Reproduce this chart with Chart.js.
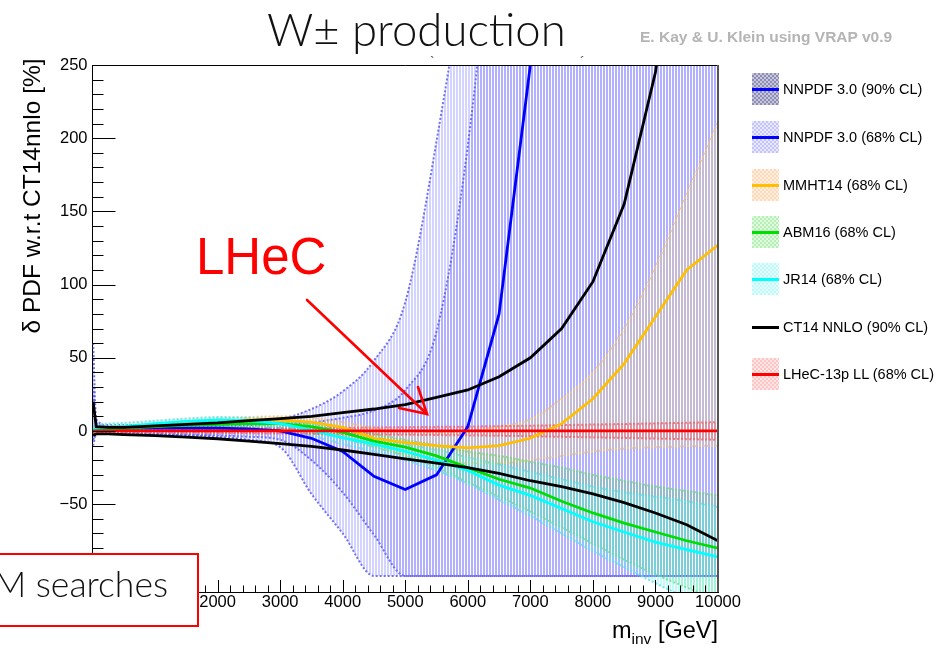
<!DOCTYPE html>
<html><head><meta charset="utf-8">
<script src="https://cdn.jsdelivr.net/npm/chart.js@4.4.0/dist/chart.umd.min.js"></script>
<style>
html,body{margin:0;padding:0;background:#fff;}
#wrap{position:relative;width:938px;height:653px;overflow:hidden;font-family:"Liberation Sans",Arial,sans-serif;}
canvas{position:absolute;left:0;top:0;}
.abs{position:absolute;white-space:nowrap;}
.thin{font-family:"Lato","Open Sans",sans-serif;font-weight:300;}
.sw{position:absolute;left:752px;width:27px;height:32px;background-size:4px 4px;}
.sw i{position:absolute;left:0;right:0;top:14.5px;height:3px;}
.lt{position:absolute;left:783px;font-size:14.5px;line-height:16px;color:#000;}
</style></head><body>
<div id="wrap">
<canvas id="c" width="938" height="653"></canvas>

<div class="abs thin" style="left:267px;top:1px;font-size:45.5px;color:#111;">W± production</div>
<div class="abs" style="left:640px;top:28px;font-size:15.5px;font-weight:bold;color:#b4b4b4;">E. Kay &amp; U. Klein using VRAP v0.9</div>
<div class="abs" style="left:430px;top:54px;font-size:14px;color:#444;">`</div>
<div class="abs" style="left:580px;top:54px;font-size:14px;color:#444;">´</div>

<div class="abs" style="left:196px;top:227px;font-size:51px;color:#ff0000;line-height:60px;">LHeC</div>
<svg class="abs" style="left:0;top:0;" width="938" height="653">
  <g stroke="#ff0000" stroke-width="2.6" fill="none" stroke-linecap="round">
    <line x1="307" y1="300" x2="427" y2="414"/>
    <polyline points="418,387 427,414 399,408"/>
  </g>
</svg>

<div class="abs" style="left:-30px;top:553px;width:225px;height:70px;border:2px solid #ff0000;background:#fff;"></div>
<div class="abs thin" style="right:770px;top:564px;font-size:35.5px;color:#111;line-height:40px;">BSM searches</div>

<div class="abs" style="right:220px;top:617px;font-size:23.5px;color:#000;">m<sub style="font-size:15.5px;vertical-align:-6px;">inv</sub> [GeV]</div>
<div class="abs" style="left:32px;top:196px;font-size:24.5px;color:#000;transform:translate(-50%,-50%) rotate(-90deg);">δ PDF w.r.t CT14nnlo [%]</div>

<div id="legend"></div>
</div>
<script>
// ---------- data ----------
const mass = [10, 60, 250, 500, 1000, 1500, 2000, 2500, 3000, 3500, 4000, 4500, 5000, 5500, 6000, 6500, 7000, 7500, 8000, 8500, 9000, 9500, 10000];

const nnpdfCentral = [0, 1, 1.5, 2, 2, 2, 2, 1.5, 0, -5, -14, -31, -40, -30, 3, 80, 250, 480, 800, 1200, 1700, 2300, 3000];
const nnpdf90Upper = [60, 8, 4, 4, 4, 4.5, 5, 6, 8, 15, 27, 48, 88, 198, 340, 560, 800, 1100, 1400, 1700, 2000, 2300, 2600];
const nnpdf90Lower = [-10, -2, -2, -2, -2.5, -3, -4, -6, -11, -43, -70, -99, -99, -99, -99, -99, -99, -99, -99, -99, -99, -99, -99];
const nnpdf68Upper = [30, 5, 3, 3, 3, 3, 3.5, 4, 5, 6, 9, 14, 28, 68, 195, 400, 650, 900, 1200, 1500, 1800, 2100, 2400];
const nnpdf68Lower = [-6, -1.5, -1.5, -1.5, -2, -2.5, -3, -4, -6, -20, -42, -71, -99, -99, -99, -99, -99, -99, -99, -99, -99, -99, -99];

const mmhtCentral = [0, 1, 2, 2.5, 4, 5, 6.5, 7.5, 7.5, 6, 2.5, -5, -8, -10, -11.5, -10, -5, 5, 22, 46, 78, 110, 127];
const mmhtUpper = [2, 2.5, 3.5, 4, 5.5, 7, 8.5, 9.5, 10, 9, 6, 2, 0, -1, 0, 3, 8, 22, 40, 70, 112, 162, 211];
const mmhtLower = [-2, -0.5, 0.5, 1, 2.5, 3, 4, 4.5, 4, 1, -3, -10, -16, -20, -22, -22, -20, -17, -14, -12, -11, -10.5, -10];

const abmCentral = [0, 1, 1.5, 2, 3, 4, 4.5, 5, 5, 3, -1, -7, -11, -17, -25, -33, -39, -48, -56, -63, -69, -75, -80];
const abmUpper = [2, 2.5, 3, 3.5, 4.5, 5.5, 6, 6.5, 6.5, 5, 2, -2, -6, -10, -14, -17, -21, -25, -30, -34, -38, -41, -44];
const abmLower = [-1, -0.5, 0, 0.5, 1.5, 2.5, 3, 2.5, 1.5, -1, -5, -11, -17, -25, -35, -45, -55, -66, -77, -88, -98, -107, -115];

const jrCentral = [1, 2, 2.5, 3, 5, 6.5, 7.5, 7, 5, 0.5, -4.5, -9, -14, -20, -27, -37, -44, -53, -62, -69, -76, -81, -86];
const jrUpper = [3, 4, 5, 5.5, 7, 8.5, 9.5, 9, 7.5, 4, 0, -4, -9, -13, -18, -23, -28, -33, -38, -42, -45, -48, -52];
const jrLower = [-1, 0, 0.5, 1, 2.5, 3.5, 4.5, 4, 2, -3, -9, -14, -20, -27, -36, -47, -58, -70, -82, -93, -104, -114, -124];

const ct14Upper = [20, 3, 2.5, 2.5, 3.5, 4.5, 5.5, 7, 8.5, 10, 12.5, 15, 18, 23, 28, 37, 50, 70, 102, 155, 245, 400, 600];
const ct14Lower = [-3, -2, -2, -2.5, -3.2, -4.2, -5.3, -7, -8.7, -10.5, -13, -16, -19, -22, -25, -29, -34, -38, -43, -49, -56, -64, -75];

const lhecCentral = [0, 0, 0, 0, 0, 0, 0, 0, 0, 0, 0, 0, 0, 0, 0, 0, 0, 0, 0, 0, 0, 0, 0];
const lhecUpper = [1, 1, 1, 1, 1, 1.2, 1.4, 1.6, 1.8, 2, 2.2, 2.4, 2.6, 2.8, 3, 3.3, 3.6, 4, 4.4, 4.8, 5.2, 5.6, 6];
const lhecLower = [-1, -1, -1, -1, -1, -1.2, -1.4, -1.6, -1.8, -2, -2.2, -2.4, -2.6, -2.8, -3, -3.3, -3.6, -4, -4.4, -4.8, -5.2, -5.6, -6];

const xTicks = [0, 1000, 2000, 3000, 4000, 5000, 6000, 7000, 8000, 9000, 10000];
const yTicks = [-50, 0, 50, 100, 150, 200, 250];

const legendLabels = ['NNPDF 3.0 (90% CL)', 'NNPDF 3.0 (68% CL)', 'MMHT14 (68% CL)', 'ABM16 (68% CL)', 'JR14 (68% CL)', 'CT14 NNLO (90% CL)', 'LHeC-13p LL (68% CL)'];

// ---------- styling ----------
const canvas = document.getElementById('c');
const ctx0 = canvas.getContext('2d');
function stripes(color){
  const c = document.createElement('canvas'); c.width = 3; c.height = 4;
  const g = c.getContext('2d'); g.fillStyle = color; g.fillRect(0, 0, 2, 4);
  return ctx0.createPattern(c, 'repeat');
}
function pts(arr){ return mass.map((m, i) => ({x: m, y: arr[i]})); }
function band(up, lo, fillColor, lineColor, order){
  const common = {borderColor: lineColor, borderWidth: 2, borderDash: [2, 2], pointRadius: 0, cubicInterpolationMode: 'monotone', order};
  return [
    Object.assign({data: pts(up), fill: '+1', backgroundColor: stripes(fillColor)}, common),
    Object.assign({data: pts(lo), fill: false}, common)
  ];
}
function line(arr, color, order){
  return {data: pts(arr), borderColor: color, borderWidth: 2.8, pointRadius: 0, fill: false, tension: 0, order};
}

const datasets = [
  ...band(nnpdf90Upper, nnpdf90Lower, 'rgba(110,110,255,0.30)', 'rgba(90,90,240,0.85)', 20),
  ...band(nnpdf68Upper, nnpdf68Lower, 'rgba(110,110,255,0.34)', 'rgba(90,90,240,0.85)', 19),
  ...band(mmhtUpper, mmhtLower, 'rgba(235,205,120,0.32)', 'rgba(250,195,110,0.8)', 18),
  ...band(abmUpper, abmLower, 'rgba(70,220,70,0.28)', 'rgba(110,220,110,0.8)', 17),
  ...band(jrUpper, jrLower, 'rgba(80,240,240,0.33)', 'rgba(90,225,225,0.8)', 16),
  ...band(lhecUpper, lhecLower, 'rgba(255,70,70,0.30)', 'rgba(255,90,90,0.8)', 15),
  line(nnpdfCentral, '#0000ff', 6),
  line(mmhtCentral, '#ffbf00', 5),
  line(abmCentral, '#00dd00', 4),
  line(jrCentral, '#00ffff', 3),
  line(ct14Upper, '#000000', 2),
  line(ct14Lower, '#000000', 2),
  line(lhecCentral, '#ff0000', 1)
];

const tickFont = {family: '"Liberation Sans", Arial, sans-serif', size: 16.5};

const rootTicks = {
  id: 'rootTicks',
  afterDatasetsDraw(chart){
    const {ctx, chartArea: a, scales: {x, y}} = chart;
    ctx.save();
    ctx.strokeStyle = '#000'; ctx.lineWidth = 1;
    ctx.beginPath();
    for (let v = -110; v <= 250; v += 10){
      const p = Math.round(y.getPixelForValue(v)) + 0.5;
      const len = (v % 50 === 0) ? 23 : 11;
      ctx.moveTo(a.left, p); ctx.lineTo(a.left + len, p);
    }
    for (let v = 0; v <= 10000; v += 200){
      const p = Math.round(x.getPixelForValue(v)) + 0.5;
      const len = (v % 1000 === 0) ? 12 : 6.5;
      ctx.moveTo(p, a.bottom); ctx.lineTo(p, a.bottom - len);
    }
    ctx.moveTo(a.left, Math.round(a.top) + 0.5); ctx.lineTo(a.right, Math.round(a.top) + 0.5);
    ctx.stroke();
    ctx.strokeStyle = '#555'; ctx.lineWidth = 2;
    ctx.beginPath(); ctx.moveTo(a.right, a.top); ctx.lineTo(a.right, a.bottom); ctx.stroke();
    ctx.restore();
  }
};

new Chart(canvas, {
  type: 'line',
  data: {datasets},
  options: {
    responsive: false,
    animation: false,
    events: [],
    layout: {padding: {left: 0, right: 220, top: 65, bottom: 0}},
    elements: {line: {capBezierPoints: false}},
    plugins: {legend: {display: false}, tooltip: {enabled: false}, title: {display: false}},
    scales: {
      x: {
        type: 'linear', min: 0, max: 10000,
        afterBuildTicks: s => { s.ticks = xTicks.map(v => ({value: v})); },
        afterFit: s => { s.height = 61; },
        ticks: {font: tickFont, color: '#000', padding: 1, maxRotation: 0, autoSkip: false, callback: v => String(v)},
        grid: {drawOnChartArea: false, drawTicks: false},
        border: {display: true, color: '#000', width: 1}
      },
      y: {
        type: 'linear', min: -110, max: 250,
        afterBuildTicks: s => { s.ticks = yTicks.map(v => ({value: v})); },
        afterFit: s => { s.width = 92.5; },
        ticks: {font: tickFont, color: '#000', padding: 5, callback: v => (v < 0 ? '\u2212' + Math.abs(v) : String(v))},
        grid: {drawOnChartArea: false, drawTicks: false},
        border: {display: true, color: '#000', width: 1}
      }
    }
  },
  plugins: [rootTicks]
});

// ---------- legend ----------
const legendStyle = [
  {c1: '#8c8cb4', c2: '#c8c8dc', line: '#0000ff', box: true},
  {c1: '#c4c4fa', c2: '#e8e8ff', line: '#0000ff', box: true},
  {c1: '#ffd8b8', c2: '#fff0e2', line: '#ffbf00', box: true},
  {c1: '#b4f0b4', c2: '#e2fae2', line: '#00dd00', box: true},
  {c1: '#bff8f8', c2: '#e6ffff', line: '#00ffff', box: true},
  {c1: '#fff', c2: '#fff', line: '#000000', box: false},
  {c1: '#ffc4c4', c2: '#ffe6e6', line: '#ff0000', box: true}
];
const legendY = [89, 137, 185, 232, 279, 327, 374];
const lg = document.getElementById('legend');
legendLabels.forEach((t, i) => {
  const st = legendStyle[i];
  const sw = document.createElement('div');
  sw.className = 'sw';
  sw.style.top = (legendY[i] - 16) + 'px';
  if (st.box) sw.style.backgroundImage = `repeating-conic-gradient(${st.c1} 0% 25%, ${st.c2} 0% 50%)`;
  const ln = document.createElement('i'); ln.style.background = st.line; sw.appendChild(ln);
  lg.appendChild(sw);
  const tx = document.createElement('div');
  tx.className = 'lt'; tx.textContent = t; tx.style.top = (legendY[i] - 8) + 'px';
  lg.appendChild(tx);
});
</script>
</body></html>
